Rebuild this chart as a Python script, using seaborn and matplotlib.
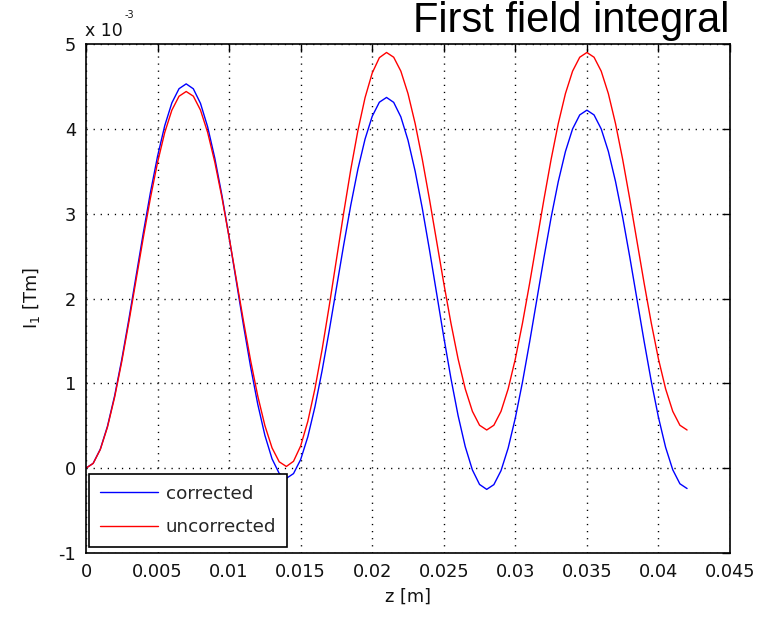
import numpy as np
import pandas as pd
import matplotlib
matplotlib.use("Agg")
import matplotlib.pyplot as plt
import seaborn as sns

# Longitudinal position along the undulator [m], sampled every 0.5 mm
z = [i * 0.0005 for i in range(85)]

# First field integral I1 in units of 1e-3 T·m
corrected = [
    0.000, 0.057, 0.224, 0.494, 0.853, 1.282, 1.761, 2.265, 2.769, 3.248,
    3.677, 4.036, 4.306, 4.473, 4.530, 4.472, 4.300, 4.023, 3.655, 3.214,
    2.722, 2.205, 1.688, 1.196, 0.755, 0.387, 0.110, -0.062, -0.120, -0.064,
    0.102, 0.370, 0.725, 1.151, 1.625, 2.125, 2.625, 3.099, 3.525, 3.880,
    4.148, 4.314, 4.370, 4.312, 4.141, 3.866, 3.500, 3.062, 2.574, 2.060,
    1.546, 1.058, 0.620, 0.254, -0.021, -0.192, -0.250, -0.194, -0.029, 0.238,
    0.592, 1.015, 1.488, 1.985, 2.482, 2.955, 3.378, 3.732, 3.999, 4.164,
    4.220, 4.164, 3.999, 3.734, 3.380, 2.958, 2.486, 1.990, 1.494, 1.022,
    0.600, 0.246, -0.019, -0.184, -0.240,
]
uncorrected = [
    0.000, 0.056, 0.220, 0.484, 0.836, 1.257, 1.726, 2.220, 2.714, 3.183,
    3.604, 3.956, 4.220, 4.384, 4.440, 4.385, 4.221, 3.958, 3.608, 3.189,
    2.722, 2.230, 1.738, 1.271, 0.852, 0.502, 0.239, 0.075, 0.020, 0.081,
    0.262, 0.552, 0.939, 1.401, 1.917, 2.460, 3.003, 3.519, 3.981, 4.368,
    4.658, 4.839, 4.900, 4.844, 4.680, 4.415, 4.062, 3.640, 3.170, 2.675,
    2.180, 1.710, 1.288, 0.935, 0.670, 0.506, 0.450, 0.506, 0.670, 0.935,
    1.288, 1.710, 2.180, 2.675, 3.170, 3.640, 4.062, 4.415, 4.680, 4.844,
    4.900, 4.844, 4.680, 4.415, 4.062, 3.640, 3.170, 2.675, 2.180, 1.710,
    1.288, 0.935, 0.670, 0.506, 0.450,
]

series_names = ["corrected", "uncorrected"]
series_colors = ["#0000ff", "#ff0000"]

x_ticks = [0, 0.005, 0.01, 0.015, 0.02, 0.025, 0.03, 0.035, 0.04, 0.045]
x_tick_labels = ["0", "0.005", "0.01", "0.015", "0.02", "0.025", "0.03",
                 "0.035", "0.04", "0.045"]
y_ticks = [-1, 0, 1, 2, 3, 4, 5]
y_tick_labels = ["-1", "0", "1", "2", "3", "4", "5"]

df = pd.concat([
    pd.DataFrame({"z": z, "I1": corrected, "series": series_names[0]}),
    pd.DataFrame({"z": z, "I1": uncorrected, "series": series_names[1]}),
], ignore_index=True)

sns.set_theme(style="white")
plt.rcParams["font.family"] = ["DejaVu Sans"]

fig = plt.figure(figsize=(7.76, 6.18), dpi=100)
ax = fig.add_axes([86 / 776, 1 - 553 / 618, 644 / 776, 509 / 618])

sns.lineplot(data=df, x="z", y="I1", hue="series", hue_order=series_names,
             palette=series_colors, linewidth=1.0, ax=ax, legend=False,
             estimator=None, sort=False)

ax.set_xlim(0, 0.045)
ax.set_ylim(-1, 5)
ax.set_xticks(x_ticks)
ax.set_xticklabels(x_tick_labels)
ax.set_yticks(y_ticks)
ax.set_yticklabels(y_tick_labels)

ax.grid(True, color="black", linestyle=(0, (0.9, 4.2)), linewidth=1.0)
ax.set_axisbelow(True)

for side in ["left", "right", "top", "bottom"]:
    ax.spines[side].set_visible(True)
    ax.spines[side].set_color("black")
    ax.spines[side].set_linewidth(1.2)
    ax.spines[side].set_zorder(5)

ax.tick_params(axis="both", which="major", direction="in", length=5.5,
               width=1.0, color="black", labelsize=12.8, labelcolor="#111111",
               top=True, right=True, pad=7)

ax.set_xlabel("z [m]", fontsize=12.8, labelpad=5, color="#111111")
ax.set_ylabel("I$_1$ [Tm]", fontsize=12.8, labelpad=12, color="#111111")

handles = [plt.Line2D([], [], color=c, linewidth=1.0) for c in series_colors]
leg = ax.legend(handles, series_names, loc="lower left",
                bbox_to_anchor=(0.004, 0.011), borderaxespad=0,
                fontsize=13.2, frameon=True, fancybox=False, framealpha=1,
                edgecolor="black", handlelength=3.2, handletextpad=0.4,
                borderpad=0.6, labelspacing=0.85)
leg.get_frame().set_linewidth(1.2)
leg.set_zorder(10)

# Exponent marker of the y axis
fig.text(85 / 776, 1 - 36 / 618, "x 10", fontsize=12.5, ha="left",
         va="baseline", color="#111111")
fig.text(125 / 776, 1 - 18 / 618, "-3", fontsize=7, ha="left",
         va="baseline", color="#111111")

fig.text(729 / 776, 1 - 32 / 618, "First field integral",
         fontsize=30, ha="right", va="baseline", family="Liberation Sans",
         color="black")

fig.savefig("out.png", dpi=100, facecolor="white")
